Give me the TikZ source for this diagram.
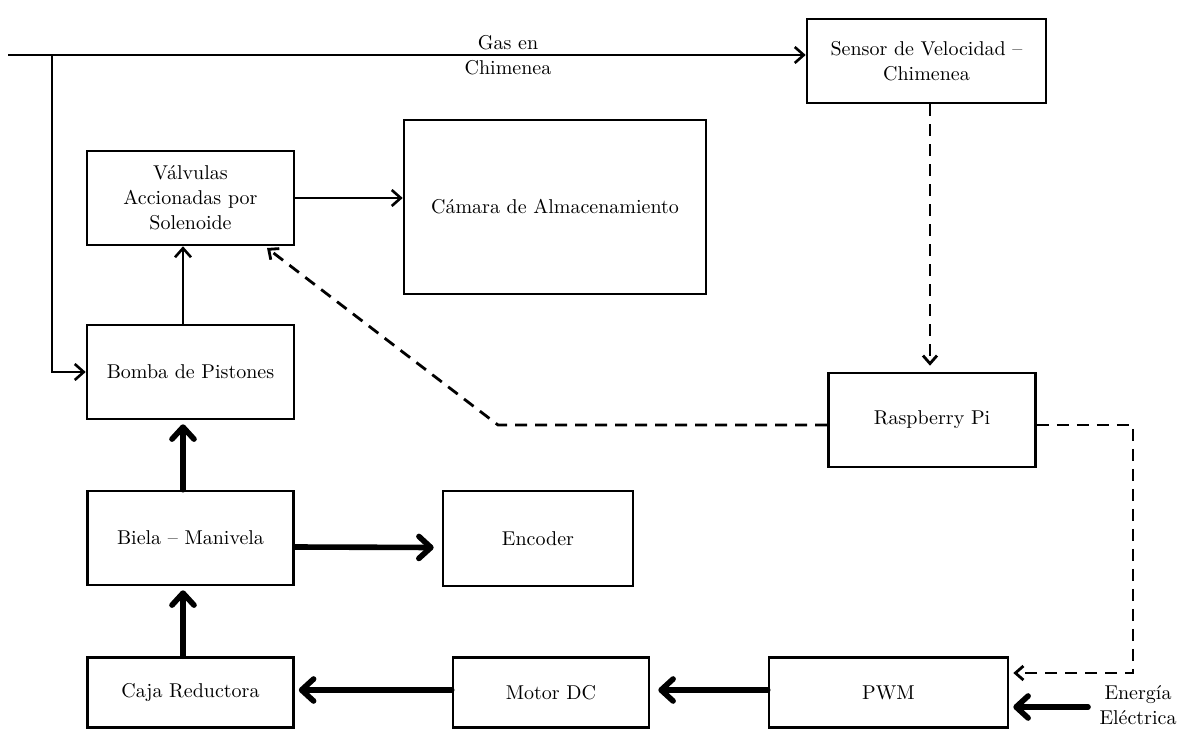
\documentclass[tikz,border=0pt]{standalone}
\usetikzlibrary{arrows.meta,calc}
\begin{document}
\begin{tikzpicture}[x=0.5pt,y=-0.5pt,
  box/.style={draw,line width=1.3pt,align=center,inner sep=0pt,font=\fontsize{10}{12.5}\selectfont},
  thinarr/.style={line width=1.3pt,-{Straight Barb[length=4.5pt,width=8pt]}},
  thickarr/.style={line width=2.8pt,line cap=round,-{Straight Barb[length=6pt,width=11pt,round]}},
  dsig/.style={line width=1.4pt,dash pattern=on 6pt off 4pt,-{Straight Barb[length=4pt,width=7pt]}},
  lbl/.style={align=center,inner sep=0pt,font=\fontsize{10}{12.5}\selectfont}]
\useasboundingbox (0,0) rectangle (1189,733);
\node[box,minimum width=119.5pt,minimum height=42pt] (sensor) at (926.5,61) {Sensor de Velocidad --\\Chimenea};
\node[box,minimum width=103.5pt,minimum height=47pt] (valv) at (190.5,198) {Válvulas\\Accionadas por\\Solenoide};
\node[box,minimum width=151pt,minimum height=87pt] (camara) at (555,207) {Cámara de Almacenamiento};
\node[box,minimum width=103.5pt,minimum height=47pt] (bomba) at (190.5,372) {Bomba de Pistones};
\node[box,minimum width=103.5pt,minimum height=47pt] (rasp) at (932,420) {Raspberry Pi};
\node[box,minimum width=103pt,minimum height=47pt] (biela) at (190.5,538) {Biela -- Manivela};
\node[box,minimum width=95pt,minimum height=47.5pt] (encoder) at (538,538.5) {Encoder};
\node[box,minimum width=103pt,minimum height=35pt] (caja) at (190.5,692.5) {Caja Reductora};
\node[box,minimum width=98pt,minimum height=35pt] (motor) at (551,692.5) {Motor DC};
\node[box,minimum width=119.5pt,minimum height=35pt] (pwm) at (888.5,692.5) {PWM};
\node[lbl] (gas) at (508,55) {Gas en\\Chimenea};
\node[lbl] (energia) at (1138,705) {Energía\\Eléctrica};
\coordinate (start) at (8,55);
\coordinate (branch) at (52,55);
\coordinate (bend) at (498,425);
\coordinate (vtip) at (267,248);
\coordinate (rcorner) at (1133,425);
\coordinate (pcorner) at (1133,673);
\coordinate (epower) at (1088,707);
% top gas line
\draw[thinarr] (start) -- (sensor.west |- start);
\draw[thinarr] (branch) |- (bomba.west);
\draw[thinarr] (valv.east) -- (camara.west |- valv.east);
\draw[thinarr] ([xshift=-3.75pt]bomba.north) -- ([xshift=-3.75pt]valv.south);
\draw[thickarr] ([xshift=-3.75pt]biela.north) -- ([xshift=-3.75pt,yshift=-2pt]bomba.south);
\draw[thickarr] ([xshift=-3.75pt]caja.north) -- ([xshift=-3.75pt,yshift=-2pt]biela.south);
\draw[thickarr] ([yshift=-4.5pt]biela.east) -- ([xshift=-4pt,yshift=-4.5pt]encoder.west);
\draw[thickarr] ([yshift=1.25pt]motor.west) -- ([xshift=2pt,yshift=1.25pt]caja.east);
\draw[thickarr] ([yshift=1.25pt]pwm.west) -- ([xshift=4pt,yshift=1.25pt]motor.east);
\draw[thickarr] (epower) -- ([xshift=2pt]pwm.east |- epower);
% dashed signals
\draw[dsig] (sensor.south -| 930,0) -- ([yshift=3pt]rasp.north -| 930,0);
\draw[dsig] ([yshift=-2.5pt]rasp.west) -- (bend) -- (vtip);
\draw[dsig] ([yshift=-2.5pt]rasp.east) -- (rcorner) -- (pcorner) -- ([xshift=2pt]pwm.east |- pcorner);
\end{tikzpicture}
\end{document}
